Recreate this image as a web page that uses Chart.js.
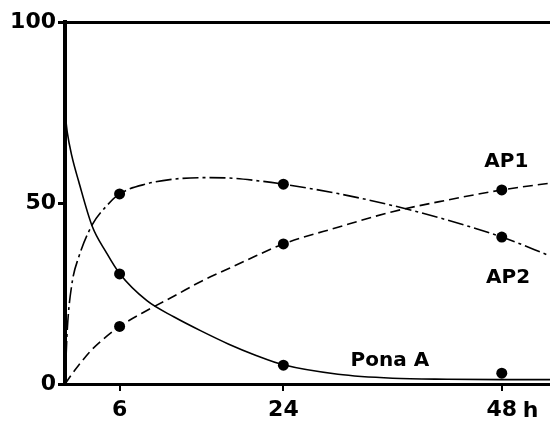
<!DOCTYPE html>
<html>
<head>
<meta charset="utf-8">
<script src="https://cdn.jsdelivr.net/npm/chart.js@4"></script>
<style>
  html, body { margin: 0; padding: 0; background: #fff; }
  #wrap { width: 550px; height: 422px; }
</style>
</head>
<body>
<div id="wrap"><canvas id="chart"></canvas></div>
<script>
// measured points (hours, %)
const markerHours = [6, 24, 48];
const ponaAPoints = [30.4, 5.2, 3.0];
const ap1Points = [15.9, 38.7, 53.6];
const ap2Points = [52.5, 55.2, 40.6];

// fitted curves
const curveHours = [0, 0.25, 0.75, 1.5, 3, 4.5, 6, 9, 12, 15, 18, 21, 24, 30, 36, 42, 48, 53.3];
const ponaACurve = [75, 69.5, 63, 56, 43.5, 36.5, 30.5, 23, 18.5, 14.6, 11, 7.9, 5.3, 2.7, 1.6, 1.3, 1.2, 1.2];
const ap1Curve = [0, 0.9, 2.7, 5.2, 9.6, 13, 15.9, 20.3, 24.3, 28.4, 31.9, 35.4, 38.7, 43.3, 47.6, 50.8, 53.6, 55.5];
const ap2Curve = [0, 15, 27.5, 35, 44, 49, 52.5, 55.3, 56.6, 57, 56.9, 56.2, 55.2, 52.6, 49.3, 45.3, 40.6, 35.4];

const xTicks = [6, 24, 48];
const yTicks = [0, 50, 100];

const FONT = 'DejaVu Sans, sans-serif';

function pts(xs, ys) {
    return xs.map((x, i) => ({ x: x, y: ys[i] }));
}

function curve(ys, dash) {
    return {
        type: 'line',
        data: pts(curveHours, ys),
        borderColor: '#000',
        borderWidth: 1.6,
        borderDash: dash,
        pointRadius: 0,
        fill: false,
        cubicInterpolationMode: 'monotone'
    };
}

function markers(ys) {
    return {
        type: 'scatter',
        data: pts(markerHours, ys),
        showLine: false,
        pointRadius: 5.5,
        pointBackgroundColor: '#000',
        pointBorderColor: '#000',
        borderWidth: 0
    };
}

// series names and the hour suffix
const labelPlugin = {
    id: 'labels',
    afterDatasetsDraw(chart) {
        const ctx = chart.ctx;
        const xs = chart.scales.x, ys = chart.scales.y;
        ctx.save();
        ctx.fillStyle = '#000';
        ctx.font = 'bold 20px ' + FONT;
        ctx.textAlign = 'center';
        ctx.textBaseline = 'middle';
        ctx.fillText('AP1', xs.getPixelForValue(48.5), ys.getPixelForValue(61.3));
        ctx.fillText('AP2', xs.getPixelForValue(48.7), ys.getPixelForValue(29.3));
        ctx.fillText('Pona A', xs.getPixelForValue(35.7), ys.getPixelForValue(6.4));
        ctx.restore();
    },
    afterDraw(chart) {
        const ctx = chart.ctx;
        const xs = chart.scales.x;
        ctx.save();
        ctx.fillStyle = '#000';
        ctx.font = 'bold 22px ' + FONT;
        ctx.textAlign = 'left';
        ctx.textBaseline = 'middle';
        ctx.fillText('h', xs.getPixelForValue(48) + 21, 411);
        ctx.restore();
    }
};

new Chart(document.getElementById('chart').getContext('2d'), {
    data: {
        datasets: [
            curve(ponaACurve, []),
            curve(ap1Curve, [10, 5]),
            curve(ap2Curve, [16, 4, 3, 4]),
            markers(ponaAPoints),
            markers(ap1Points),
            markers(ap2Points)
        ]
    },
    options: {
        responsive: true,
        maintainAspectRatio: false,
        animation: false,
        layout: { autoPadding: false, padding: { top: 22, right: 0, left: 0, bottom: 0 } },
        plugins: {
            legend: { display: false },
            tooltip: { enabled: false }
        },
        scales: {
            x: {
                type: 'linear',
                min: 0,
                max: 53.3,
                afterBuildTicks: function(scale) {
                    scale.ticks = xTicks.map(v => ({ value: v }));
                },
                afterFit: function(scale) {
                    scale.height = 38;
                    scale.paddingLeft = 0;
                    scale.paddingRight = 0;
                },
                border: { display: true, color: '#000', width: 3 },
                grid: {
                    drawOnChartArea: false,
                    drawTicks: true,
                    tickLength: 7,
                    tickColor: '#000',
                    lineWidth: 2
                },
                ticks: {
                    color: '#000',
                    padding: 6,
                    maxRotation: 0,
                    font: { family: FONT, size: 22, weight: 'bold' },
                    callback: v => String(v)
                }
            },
            y: {
                type: 'linear',
                min: 0,
                max: 100,
                afterBuildTicks: function(scale) {
                    scale.ticks = yTicks.map(v => ({ value: v }));
                },
                afterFit: function(scale) {
                    scale.width = 65;
                    scale.paddingTop = 0;
                    scale.paddingBottom = 0;
                },
                border: { display: true, color: '#000', width: 4 },
                grid: {
                    drawTicks: true,
                    tickLength: 7,
                    tickColor: '#000',
                    color: c => (c.tick && c.tick.value === 100) ? '#000' : 'rgba(0,0,0,0)',
                    lineWidth: 3
                },
                ticks: {
                    color: '#000',
                    padding: 2,
                    font: { family: FONT, size: 22, weight: 'bold' }
                }
            }
        }
    },
    plugins: [labelPlugin]
});
</script>
</body>
</html>
